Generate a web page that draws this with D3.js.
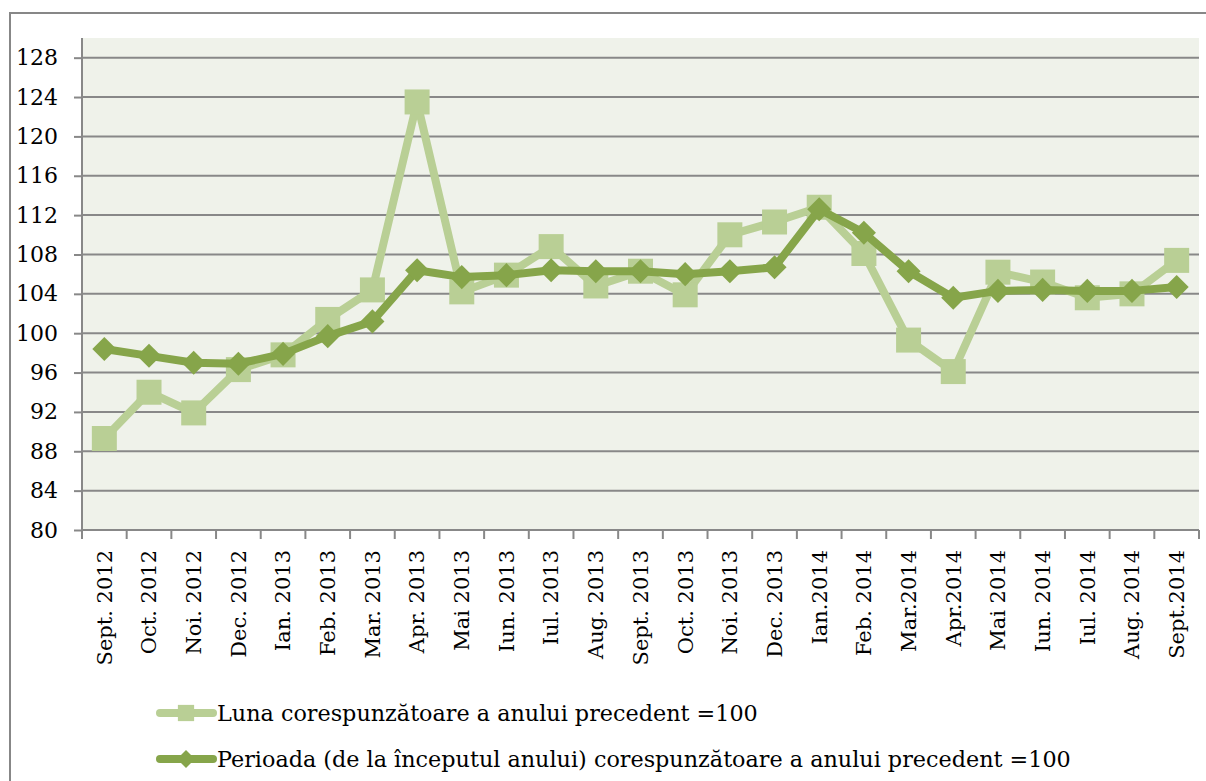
<!DOCTYPE html>
<html>
<head>
<meta charset="utf-8">
<script src="https://cdn.jsdelivr.net/npm/d3@7"></script>
<style>
  html, body { margin: 0; padding: 0; background: #fff; overflow: hidden; }
  svg { display: block; }
  svg text { font-family: "DejaVu Serif", serif; fill: #000; }
</style>
</head>
<body>
<svg id="chart" width="1206" height="781"></svg>
<script>
// Month labels on the x axis
const months = ["Sept. 2012", "Oct. 2012", "Noi. 2012", "Dec. 2012", "Ian. 2013", "Feb. 2013",
  "Mar. 2013", "Apr. 2013", "Mai 2013", "Iun. 2013", "Iul. 2013", "Aug. 2013", "Sept. 2013",
  "Oct. 2013", "Noi. 2013", "Dec. 2013", "Ian.2014", "Feb. 2014", "Mar.2014", "Apr.2014",
  "Mai 2014", "Iun. 2014", "Iul. 2014", "Aug. 2014", "Sept.2014"];

// Same month of previous year = 100
const monthly = [89.3, 94.0, 91.9, 96.3, 97.8, 101.4, 104.4, 123.5, 104.2, 105.9, 108.8, 104.8,
  106.3, 103.9, 110.0, 111.3, 112.8, 108.1, 99.3, 96.1, 106.2, 105.2, 103.6, 104.0, 107.4];

// Cumulative period of previous year = 100
const cumulative = [98.4, 97.7, 97.0, 96.9, 97.9, 99.7, 101.2, 106.4, 105.7, 105.9, 106.4, 106.3,
  106.3, 106.0, 106.3, 106.7, 112.6, 110.2, 106.3, 103.6, 104.3, 104.4, 104.3, 104.3, 104.7];

const yTicks = [80, 84, 88, 92, 96, 100, 104, 108, 112, 116, 120, 124, 128];

const legendNames = ["Luna corespunzătoare a anului precedent =100",
  "Perioada (de la începutul anului) corespunzătoare a anului precedent =100"];

const lightGreen = "#b9cf95";
const darkGreen = "#86a54a";
const gridGrey = "#888888";

const plot = { left: 82, right: 1199, top: 38, bottom: 530 };

const svg = d3.select("#chart");

// outer frame: only top and left edges fall inside the page
svg.append("path")
  .attr("d", "M10,781V13H1206")
  .attr("fill", "none")
  .attr("stroke", "#878787")
  .attr("stroke-width", 2);

// plot background
svg.append("rect")
  .attr("x", plot.left).attr("y", plot.top)
  .attr("width", plot.right - plot.left).attr("height", plot.bottom - plot.top)
  .attr("fill", "#eff2ea");

const x = d3.scaleBand()
  .domain(months)
  .range([plot.left, plot.right]);

const y = d3.scaleLinear()
  .domain([80, 130])
  .range([plot.bottom, plot.top]);

// horizontal grid lines
svg.append("g")
  .selectAll("line")
  .data(yTicks.slice(1))
  .enter().append("line")
  .attr("x1", plot.left).attr("x2", plot.right)
  .attr("y1", d => y(d)).attr("y2", d => y(d))
  .attr("stroke", gridGrey)
  .attr("stroke-width", 2);

// y axis
const yAxis = svg.append("g")
  .attr("transform", `translate(${plot.left},0)`)
  .call(d3.axisLeft(y).tickValues(yTicks).tickSize(8).tickPadding(16));
yAxis.select(".domain").attr("stroke", gridGrey).attr("stroke-width", 2)
  .attr("d", `M0,${plot.top}V${plot.bottom}`);
yAxis.selectAll(".tick line").attr("stroke", gridGrey).attr("stroke-width", 2);
yAxis.selectAll(".tick text")
  .style("font-size", "22px")
  .attr("fill", "#000");

// x axis: ticks sit on band boundaries
const xAxis = svg.append("g")
  .attr("transform", `translate(0,${plot.bottom})`)
  .call(d3.axisBottom(x).tickSize(0).tickPadding(0));
xAxis.select(".domain").attr("stroke", gridGrey).attr("stroke-width", 2)
  .attr("d", `M${plot.left},0H${plot.right}`);
xAxis.selectAll(".tick text")
  .style("font-size", "21px")
  .attr("fill", "#000")
  .attr("text-anchor", "end")
  .attr("dy", "0.35em")
  .attr("transform", "translate(0,20) rotate(-90)")
  .attr("x", 0).attr("y", 0);

const boundaries = months.map(m => x(m)).concat([plot.right]);
svg.append("g")
  .selectAll("line")
  .data(boundaries)
  .enter().append("line")
  .attr("x1", d => d).attr("x2", d => d)
  .attr("y1", plot.bottom).attr("y2", plot.bottom + 9)
  .attr("stroke", gridGrey)
  .attr("stroke-width", 2);

const cx = (d, i) => x(months[i]) + x.bandwidth() / 2;

const line = d3.line()
  .x((d, i) => cx(d, i))
  .y(d => y(d));

// light series: squares
svg.append("path")
  .datum(monthly)
  .attr("d", line)
  .attr("fill", "none")
  .attr("stroke", lightGreen)
  .attr("stroke-width", 8)
  .attr("stroke-linejoin", "round");

const squareSym = d3.symbol().type(d3.symbolSquare).size(625);
svg.append("g")
  .selectAll("path")
  .data(monthly)
  .enter().append("path")
  .attr("d", squareSym)
  .attr("transform", (d, i) => `translate(${cx(d, i)},${y(d)})`)
  .attr("fill", lightGreen);

// dark series: diamonds
svg.append("path")
  .datum(cumulative)
  .attr("d", line)
  .attr("fill", "none")
  .attr("stroke", darkGreen)
  .attr("stroke-width", 8)
  .attr("stroke-linejoin", "round");

const diamondSym = d3.symbol().type(d3.symbolSquare).size(290);
svg.append("g")
  .selectAll("path")
  .data(cumulative)
  .enter().append("path")
  .attr("d", diamondSym)
  .attr("transform", (d, i) => `translate(${cx(d, i)},${y(d)}) rotate(45)`)
  .attr("fill", darkGreen);

// legend
const legendRows = [
  { name: legendNames[0], color: lightGreen, sym: squareSym, rot: 0, scale: 0.65 },
  { name: legendNames[1], color: darkGreen, sym: diamondSym, rot: 45, scale: 0.75 }
];
const legend = svg.append("g");
legendRows.forEach((r, i) => {
  const ly = 713 + i * 46;
  const g = legend.append("g").attr("transform", `translate(0,${ly})`);
  g.append("line")
    .attr("x1", 160).attr("x2", 213)
    .attr("stroke", r.color)
    .attr("stroke-width", 8)
    .attr("stroke-linecap", "round");
  g.append("path")
    .attr("d", r.sym)
    .attr("transform", `translate(186,0) scale(${r.scale}) rotate(${r.rot})`)
    .attr("fill", r.color);
  g.append("text")
    .attr("x", 217)
    .attr("dy", "0.35em")
    .style("font-size", "22.3px")
    .text(r.name);
});
</script>
</body>
</html>
